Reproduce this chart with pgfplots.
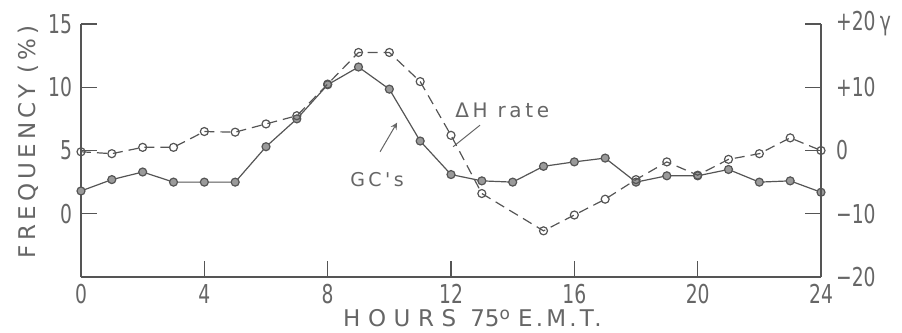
\documentclass[border=0pt]{standalone}
\usepackage{pgfplots}
\pgfplotsset{compat=1.18}
\usepackage{fontspec}
\setmainfont{DejaVu Sans}
\newfontfamily\spaced[LetterSpace=18]{DejaVu Sans}
\newfontfamily\emt[LetterSpace=14]{DejaVu Sans}
\newfontfamily\wide[LetterSpace=33]{DejaVu Sans}
\newfontfamily\narrow[FakeStretch=0.72]{DejaVu Sans}
\definecolor{ink}{HTML}{555555}
\definecolor{txt}{HTML}{666666}
\definecolor{dotfill}{HTML}{9A9A9A}

\pgfplotstableread{
h  gc
0  1.8
1  2.7
2  3.3
3  2.5
4  2.5
5  2.5
6  5.3
7  7.5
8  10.2
9  11.6
10 9.85
11 5.75
12 3.1
13 2.6
14 2.5
15 3.75
16 4.1
17 4.4
18 2.5
19 3.0
20 3.0
21 3.5
22 2.5
23 2.6
24 1.7
}\gcdata

\pgfplotstableread{
h  dh
0  -0.2
1  -0.5
2  0.5
3  0.5
4  3.0
5  2.9
6  4.2
7  5.5
8  10.5
9  15.5
10 15.5
11 10.9
12 2.4
13 -6.8
15 -12.7
16 -10.2
17 -7.7
18 -4.6
19 -1.8
20 -3.9
21 -1.4
22 -0.5
23 2.0
24 0.0
}\dhdata

\begin{document}
\begin{tikzpicture}
\pgfplotsset{
  common/.style={
    scale only axis, width=370pt, height=126.5pt,
    xmin=0, xmax=24,
    axis line style={ink, line width=0.6pt, -},
    tick style={ink, line width=0.6pt},
    major tick length=8pt,
    tick align=inside,
    /pgf/number format/assume math mode=true,
    ticklabel style={font=\narrow\fontsize{13}{14}\selectfont, text=txt},
  }
}
\begin{axis}[common,
  ymin=-5, ymax=15,
  axis x line*=bottom, axis y line*=left,
  xtick={0,4,...,24}, ytick={0,5,10,15},
  yticklabel style={xshift=-1pt},
  ylabel={\spaced FREQUENCY (\%)},
  ylabel style={at={(axis description cs:-0.0716,0.535)}, anchor=center, font=\fontsize{11.5}{12}\selectfont, text=txt},
  xlabel={{\wide HOURS}\hspace{7pt}{75\raisebox{0.6ex}{\fontsize{8.5}{9}\selectfont o}}\hspace{4pt}{\emt E.M.T.}},
  xlabel style={at={(axis description cs:0.529,-0.1976)}, anchor=base, font=\fontsize{11.5}{12}\selectfont, text=txt},
]
\coordinate (SW) at (rel axis cs:0,0);
\coordinate (NE) at (rel axis cs:1,1);
\addplot[ink, line width=0.6pt, mark=*, mark size=2pt,
  mark options={fill=dotfill, draw=ink, line width=0.6pt}] table[x=h, y=gc] {\gcdata};
\node[txt, font=\spaced\fontsize{9.5}{10}\selectfont] at (axis cs:9.6,2.67) {GC's};
\draw[txt, line width=0.5pt, -stealth] (axis cs:9.7,4.9) -- (axis cs:10.25,7.2);
\node[txt, font=\spaced\fontsize{10}{11}\selectfont, anchor=west, inner sep=0pt] at (axis cs:12.13,8.2) {ΔH rate};
\draw[txt, line width=0.5pt] (axis cs:12.94,7.0) -- (axis cs:12.07,5.3);
\end{axis}
\begin{axis}[common,
  ymin=-20, ymax=20,
  axis x line=none, axis y line*=right,
  ytick={-20,-10,0,10,20},
  yticklabels={−20,−10,0,+10,+20\,γ},
  yticklabel style={xshift=4pt},
]
\addplot[ink, line width=0.6pt, dash pattern=on 5pt off 3pt, mark=o, mark size=2pt,
  mark options={solid, fill=white, draw=ink, line width=0.6pt}] table[x=h, y=dh] {\dhdata};
\end{axis}
\pgfresetboundingbox
\path[use as bounding box] ([xshift=-40.5pt,yshift=-27.5pt]SW) rectangle ([xshift=40.5pt,yshift=12pt]NE);
\end{tikzpicture}
\end{document}
